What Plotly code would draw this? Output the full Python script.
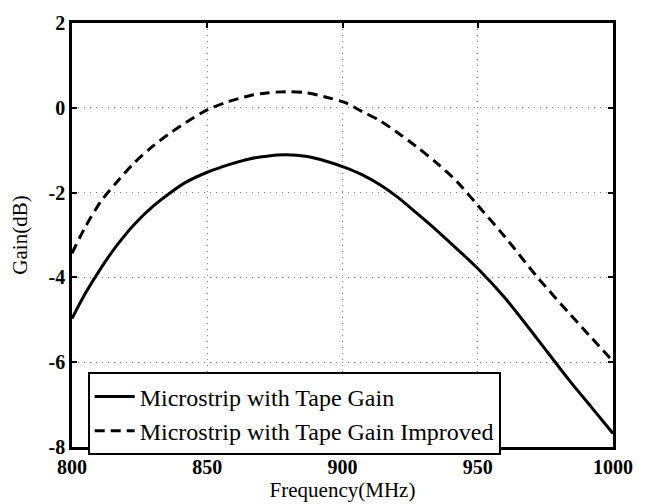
import plotly.graph_objects as go

freq = [800, 805, 811, 817, 823, 830, 836, 842, 850, 858, 866, 872, 879, 887, 894, 901,
        907, 914, 920, 927, 935, 942, 950, 960, 972, 984, 992, 1000]
gain_tape = [-4.97, -4.37, -3.75, -3.21, -2.75, -2.32, -2.02, -1.76, -1.52, -1.34, -1.20, -1.14,
             -1.11, -1.15, -1.26, -1.41, -1.57, -1.82, -2.09, -2.46, -2.90, -3.31, -3.79, -4.48,
             -5.45, -6.44, -7.06, -7.68]
gain_improved = [-3.43, -2.80, -2.18, -1.72, -1.30, -0.90, -0.61, -0.35, -0.05, 0.15, 0.29, 0.35,
                 0.38, 0.35, 0.25, 0.12, -0.08, -0.31, -0.57, -0.90, -1.31, -1.72, -2.30, -3.04,
                 -3.99, -4.86, -5.42, -5.98]

x_ticks = [800, 850, 900, 950, 1000]
y_ticks = [-8, -6, -4, -2, 0, 2]

fig = go.Figure()
fig.add_trace(go.Scatter(x=freq, y=gain_tape, mode="lines", name="Microstrip with Tape Gain",
                         line=dict(color="black", width=3, shape="spline", smoothing=0.9)))
fig.add_trace(go.Scatter(x=freq, y=gain_improved, mode="lines", name="Microstrip with Tape Gain Improved",
                         line=dict(color="black", width=3, dash="10px,6px", shape="spline", smoothing=0.9)))

axis_common = dict(showline=True, linecolor="black", linewidth=2.5, mirror="ticks",
                   ticks="inside", ticklen=5, tickwidth=2, tickcolor="black",
                   showgrid=True, gridcolor="#808080", gridwidth=1, griddash="1px,5px",
                   zeroline=False,
                   tickfont=dict(family="Liberation Serif", size=20, color="black", weight="bold"))

fig.update_xaxes(range=[800, 1000], tickvals=x_ticks, ticktext=[str(v) for v in x_ticks],
                 title=dict(text="Frequency(MHz)", font=dict(family="Liberation Serif", size=21, color="black"), standoff=0),
                 **axis_common)
fig.update_yaxes(range=[-8, 2], tickvals=y_ticks, ticktext=[str(v) for v in y_ticks],
                 title=dict(text="Gain(dB)", font=dict(family="Liberation Serif", size=21, color="black"), standoff=16),
                 **axis_common)

fig.update_layout(
    width=645, height=504,
    margin=dict(l=72, r=27, t=18, b=54),
    plot_bgcolor="white", paper_bgcolor="white",
    showlegend=True,
    legend=dict(x=0.029, y=0.176, xanchor="left", yanchor="top",
                bgcolor="white", bordercolor="black", borderwidth=2,
                font=dict(family="Liberation Serif", size=24, color="black"),
                tracegroupgap=0, itemwidth=40),
)

fig.write_html("out.html", config={"displayModeBar": False},
               post_script="document.body.style.margin='0px';document.body.style.overflow='hidden';")
